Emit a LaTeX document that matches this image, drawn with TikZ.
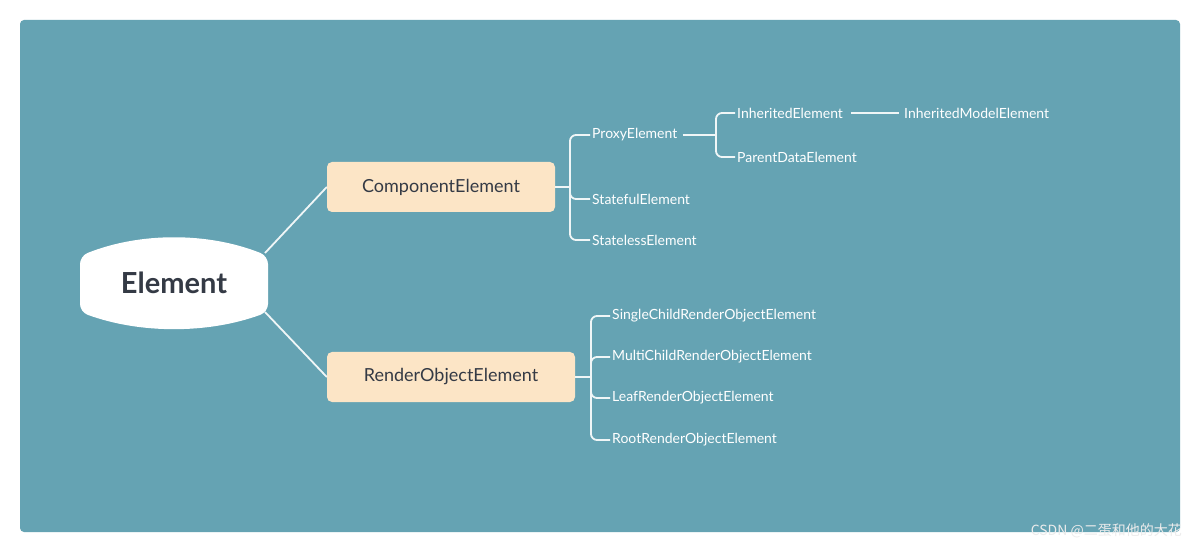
\documentclass[tikz,border=0pt]{standalone}
\usepackage{fontspec}
\setmainfont{Lato}
\newfontfamily\cjk{Noto Sans CJK SC}
\definecolor{bg}{HTML}{65A3B3}
\definecolor{box}{HTML}{FCE5C6}
\definecolor{ink}{HTML}{343A45}
\begin{document}
\begin{tikzpicture}[x=1pt,y=-1pt,
  leaf/.style={anchor=west,text=white,font=\fontsize{14}{16}\selectfont,inner sep=2pt},
  mid/.style={fill=box,rounded corners=5pt,text=ink,font=\fontsize{18}{20}\selectfont,inner sep=0pt},
  link/.style={draw=white!90!bg,line width=1.8pt,rounded corners=6pt}]
\useasboundingbox (0,0) rectangle (1200,553);
\fill[white] (0,0) rectangle (1200,553);
\fill[bg,rounded corners=4pt] (20,20) rectangle (1180,532);
% root
\fill[white,rounded corners=8pt] (80,256) .. controls (140,232) and (208,232) .. (268,256) -- (268,312) .. controls (208,334) and (140,334) .. (80,312) -- cycle;
\node[text=ink,font=\fontsize{29}{32}\selectfont\bfseries] (root) at (174,283) {Element};
\coordinate (ra) at (265,253);
\coordinate (rb) at (265,312);
% mid nodes
\node[mid,minimum width=228pt,minimum height=50pt] (ce) at (441,187) {ComponentElement};
\node[mid,minimum width=248pt,minimum height=50pt] (re) at (451,377) {RenderObjectElement};
\draw[link] (ra) -- (ce.west);
\draw[link] (rb) -- (re.west);
% component children
\node[leaf] (px) at (590,135) {ProxyElement};
\node[leaf] (sf) at (590,199) {StatefulElement};
\node[leaf] (sl) at (590,240) {StatelessElement};
\coordinate (cj) at (570,187);
\draw[link] (ce.east) -- (cj);
\draw[link] (cj) |- (px.west);
\draw[link] (cj) |- (sl.west);
\draw[link] (cj) |- (sf.west);
% proxy children
\node[leaf] (ie) at (735,113) {InheritedElement};
\node[leaf] (pd) at (735,157) {ParentDataElement};
\node[leaf] (im) at (902,113) {InheritedModelElement};
\coordinate (pj) at (716,135);
\draw[link] (px.east) ++(3,0) -- (pj);
\draw[link] (pj) |- (ie.west);
\draw[link] (pj) |- (pd.west);
\draw[link] (ie.east) ++(6,0) -- ([xshift=-3pt]im.west);
% render children
\node[leaf] (s1) at (610,316) {SingleChildRenderObjectElement};
\node[leaf] (s2) at (610,357) {MultiChildRenderObjectElement};
\node[leaf] (s3) at (610,398) {LeafRenderObjectElement};
\node[leaf] (s4) at (610,440) {RootRenderObjectElement};
\coordinate (rj) at (591,377);
\draw[link] (re.east) -- (rj);
\draw[link] (rj) |- (s1.west);
\draw[link] (rj) |- (s4.west);
\draw[link] (rj) |- (s2.west);
\draw[link] (rj) |- (s3.west);
% watermark
\node[anchor=east,text=white!85!gray,font=\cjk\fontsize{14}{16}\selectfont,inner sep=0pt] (wm) at (1182,531) {CSDN @二蛋和他的大花};
\end{tikzpicture}
\end{document}
